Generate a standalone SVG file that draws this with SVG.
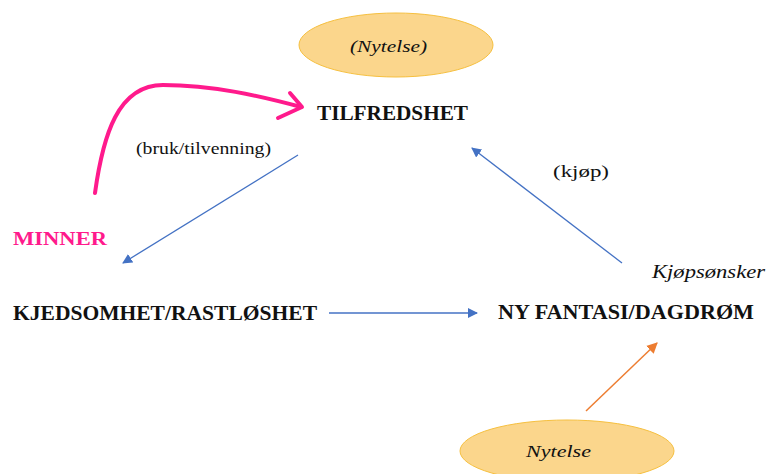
<svg xmlns="http://www.w3.org/2000/svg" width="766" height="474" viewBox="0 0 766 474">
<style>
text{font-family:"Liberation Serif","Times New Roman","DejaVu Serif",serif;fill:#111}
.b{font-weight:bold;font-size:20px}
.n{font-size:17px}
.i{font-style:italic;font-size:17px}
.blue{stroke:#4472C4;stroke-width:1.3;fill:none}
.org{stroke:#ED7D31;stroke-width:1.5;fill:none}
.ell{fill:#FBD68C;stroke:#F6C040;stroke-width:1}
</style>
<defs>
<marker id="ab" viewBox="0 0 10 10" refX="9" refY="5" markerWidth="10" markerHeight="10" markerUnits="userSpaceOnUse" orient="auto"><path d="M0,0 L10,5 L0,10 z" fill="#4472C4"/></marker>
<marker id="ao" viewBox="0 0 10 10" refX="9" refY="5" markerWidth="11" markerHeight="11" markerUnits="userSpaceOnUse" orient="auto"><path d="M0,0 L10,5 L0,10 z" fill="#ED7D31"/></marker>
</defs>
<rect width="766" height="474" fill="#fff"/>
<g id="nytelse-top">
<ellipse class="ell" cx="396" cy="45" rx="97" ry="32"/>
<text class="i" x="350" y="52" textLength="77" lengthAdjust="spacingAndGlyphs">(Nytelse)</text>
</g>
<g id="tilfredshet">
<text class="b" x="317" y="120" textLength="151" lengthAdjust="spacingAndGlyphs">TILFREDSHET</text>
</g>
<g id="minner">
<text class="b" x="13" y="245" textLength="94" lengthAdjust="spacingAndGlyphs" style="fill:#FF1A8C;font-size:19px">MINNER</text>
</g>
<g id="kjedsomhet">
<text class="b" x="13" y="320" textLength="304" lengthAdjust="spacingAndGlyphs">KJEDSOMHET/RASTLØSHET</text>
</g>
<g id="fantasi">
<text class="b" x="498" y="319" textLength="256" lengthAdjust="spacingAndGlyphs">NY FANTASI/DAGDRØM</text>
</g>
<g id="nytelse-bottom">
<ellipse class="ell" cx="567" cy="451" rx="107" ry="31"/>
<text class="i" x="526" y="457" textLength="65" lengthAdjust="spacingAndGlyphs">Nytelse</text>
</g>
<g id="labels">
<text class="n" x="136" y="154" textLength="135" lengthAdjust="spacingAndGlyphs">(bruk/tilvenning)</text>
<text class="n" x="553" y="177" textLength="56" lengthAdjust="spacingAndGlyphs">(kjøp)</text>
<text class="i" x="652" y="278" textLength="113" lengthAdjust="spacingAndGlyphs" style="font-size:18px">Kjøpsønsker</text>
</g>
<g id="connectors">
<path class="blue" d="M298,155 L123,263" marker-end="url(#ab)"/>
<path class="blue" d="M329,313 L477,313" marker-end="url(#ab)"/>
<path class="blue" d="M622,263 L472,148" marker-end="url(#ab)"/>
<path class="org" d="M586,411 L657,343" marker-end="url(#ao)"/>
<path d="M95,193 C103,135 118,85 163,85 C213,85 260,96 301,107" fill="none" stroke="#FF1A8C" stroke-width="4" stroke-linecap="round"/>
<path d="M290,93 L302,107 L278,118" fill="none" stroke="#FF1A8C" stroke-width="4" stroke-linecap="round" stroke-linejoin="round"/>
</g>
</svg>
